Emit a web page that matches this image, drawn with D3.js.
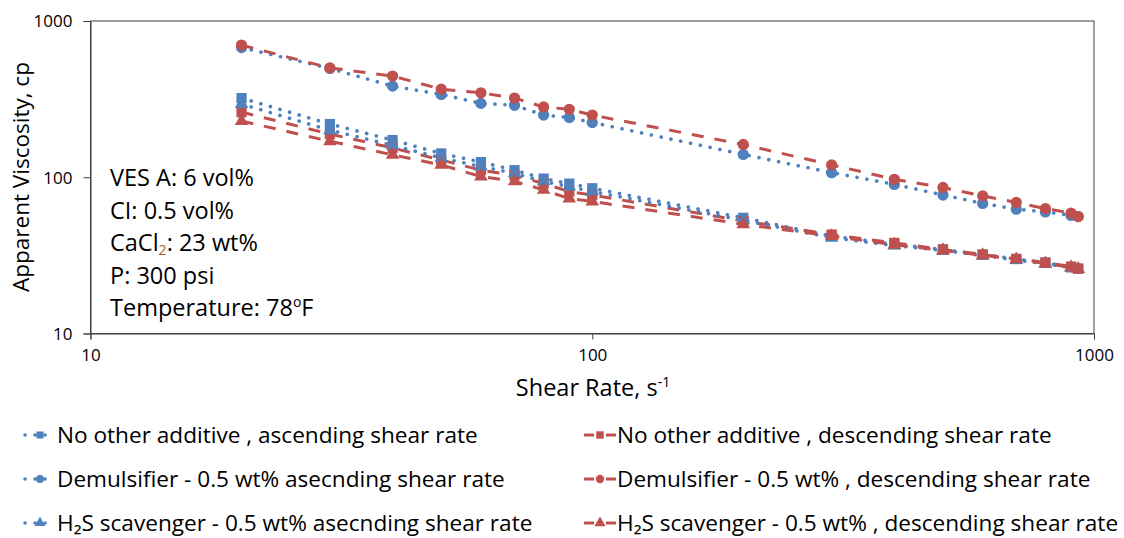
<!DOCTYPE html>
<html><head><meta charset="utf-8">
<script src="https://cdn.jsdelivr.net/npm/d3@7"></script>
<style>
body{margin:0;background:#fff}
svg text{font-family:"Open Sans",Lato,sans-serif;fill:#000}
</style>
</head><body>
<svg id="c" width="1124" height="538"></svg>
<script>
// ---------- data ----------
const shearRate = [20,30,40,50,60,70,80,90,100,200,300,400,500,600,700,800,900,930];
const noAddAsc  = [321,219,173,142,125,111,98,91,85,55,42,37.3,34.5,32,30,28.3,26.5,26];
const noAddDesc = [261,189,154,129,111,103,91,81,77,52.5,43,38,34.5,32,30,28.5,26.8,26];
const demAsc    = [676,497,383,339,297,289,250,241,224,140,107,90,77,68,62.5,60,57,56];
const demDesc   = [701,501,444,366,347,321,282,272,250,162,120,97,86,76,69,63,59,56];
const h2sAsc    = [294,200,160,133,117,106,94,87,81,53,41,36.5,34,31.5,29.5,28,26.3,25.8];
const h2sDesc   = [229,170,139,120,101,94,83,73,70,50,42,37,34,31.7,29.8,28,26.5,25.8];
const seriesLabels = [
  "No other additive , ascending shear rate",
  "No other additive , descending shear rate",
  "Demulsifier - 0.5 wt% asecnding shear rate",
  "Demulsifier - 0.5 wt% , descending shear rate",
  "H\u2082S scavenger - 0.5 wt% asecnding shear rate",
  "H\u2082S scavenger - 0.5 wt% , descending shear rate"
];
const xTicks = [10,100,1000];
const yTicks = [10,100,1000];
const notes = ["VES A: 6 vol%","CI: 0.5 vol%","CaCl|2|: 23 wt%","P: 300 psi","Temperature: 78|o|F"];

// ---------- styles ----------
const BLUE = "#4F81BD", RED = "#C0504D";
const series = [
  {v:noAddAsc,  c:BLUE, asc:true,  sym:d3.symbolSquare,   size:105},
  {v:noAddDesc, c:RED,  asc:false, sym:d3.symbolSquare,   size:105},
  {v:demAsc,    c:BLUE, asc:true,  sym:d3.symbolCircle,   size:100},
  {v:demDesc,   c:RED,  asc:false, sym:d3.symbolCircle,   size:100},
  {v:h2sAsc,    c:BLUE, asc:true,  sym:d3.symbolTriangle, size:80},
  {v:h2sDesc,   c:RED,  asc:false, sym:d3.symbolTriangle, size:80}
];
series.forEach((s,i)=>s.label=seriesLabels[i]);

const svg = d3.select("#c");
const L=90.5, R=1094, T=21, B=333.5;
const x = d3.scaleLog().domain([10,1000]).range([L,R]);
const y = d3.scaleLog().domain([10,1000]).range([B,T]);

// frame
svg.append("rect").attr("x",L).attr("y",T).attr("width",R-L).attr("height",B-T)
  .attr("fill","none").attr("stroke","#404040").attr("stroke-width",1);

// axes
const ax = svg.append("g").attr("transform",`translate(0,${B})`)
  .call(d3.axisBottom(x).tickValues(xTicks).tickFormat(d3.format("d")).tickSize(6).tickPadding(9));
const ay = svg.append("g").attr("transform",`translate(${L},0)`)
  .call(d3.axisLeft(y).tickValues(yTicks).tickFormat(d3.format("d")).tickSize(7).tickPadding(11));
[ax,ay].forEach(a=>{
  a.select(".domain").attr("stroke","#404040");
  a.selectAll(".tick line").attr("stroke","#404040");
  a.selectAll(".tick text").style("font-size","17px").attr("fill","#000");
});
ay.selectAll(".tick text").attr("dy","0.35em");

// axis titles
svg.append("text").attr("transform","translate(21,177) rotate(-90)")
  .attr("text-anchor","middle").attr("dy","0.35em").style("font-size","22.5px").text("Apparent Viscosity, cp");
const xt = svg.append("text").attr("x",593).attr("y",388).attr("dy","0.35em").attr("text-anchor","middle").style("font-size","23.5px");
xt.append("tspan").text("Shear Rate, s");
xt.append("tspan").attr("dy","-9").style("font-size","14px").text("-1");

// annotation
notes.forEach((n,i)=>{
  const t = svg.append("text").attr("x",110).attr("y",178+i*32.5).attr("dy","0.35em").style("font-size","23.5px");
  const parts = n.split("|");
  t.append("tspan").text(parts[0]);
  if(parts.length>1){
    const sub = parts[1]==="2";
    t.append("tspan").attr("dy", sub? 4 : -9).style("font-size","14px")
      .attr("fill", sub? "#b35a1f" : "#000").text(parts[1]);
    t.append("tspan").attr("dy", sub? -4 : 9).text(parts[2]);
  }
});

// lines + markers
const line = d3.line().x((d,i)=>x(shearRate[i])).y(d=>y(d));
const dotted = {dash:"0.1 9.9", w:3.6, cap:"round"};
const dashed = {dash:"12 11", w:3, cap:"butt"};
series.forEach(s=>{
  const st = s.asc? dotted : dashed;
  svg.append("path").datum(s.v).attr("d",line).attr("fill","none")
    .attr("stroke",s.c).attr("stroke-width",st.w).attr("stroke-dasharray",st.dash)
    .attr("stroke-linecap",st.cap);
  svg.append("g").selectAll("path").data(s.v).join("path")
    .attr("transform",(d,i)=>`translate(${x(shearRate[i])},${y(d)})`)
    .attr("d",d3.symbol().type(s.sym).size(s.size)).attr("fill",s.c);
});

// legend
const rowsY = [435,479,523];
series.forEach((s,i)=>{
  const row = Math.floor(i/2);
  const cy = rowsY[row];
  const g = svg.append("g");
  if(s.asc){
    g.append("line").attr("x1",25).attr("x2",52).attr("y1",cy).attr("y2",cy)
      .attr("stroke",s.c).attr("stroke-width",3.6).attr("stroke-dasharray","0.1 9.9").attr("stroke-linecap","round");
    g.append("path").attr("transform",`translate(40,${cy})`)
      .attr("d",d3.symbol().type(s.sym).size(50)).attr("fill",s.c);
    g.append("text").attr("x",57).attr("y",cy).attr("dy","0.35em").style("font-size","22.6px").text(s.label);
  } else {
    g.append("line").attr("x1",584).attr("x2",616).attr("y1",cy).attr("y2",cy)
      .attr("stroke",s.c).attr("stroke-width",3).attr("stroke-dasharray","10 12");
    g.append("path").attr("transform",`translate(600,${cy})`)
      .attr("d",d3.symbol().type(s.sym).size(55)).attr("fill",s.c);
    g.append("text").attr("x",617).attr("y",cy).attr("dy","0.35em").style("font-size","22.6px").text(s.label);
  }
});
</script>
</body></html>
